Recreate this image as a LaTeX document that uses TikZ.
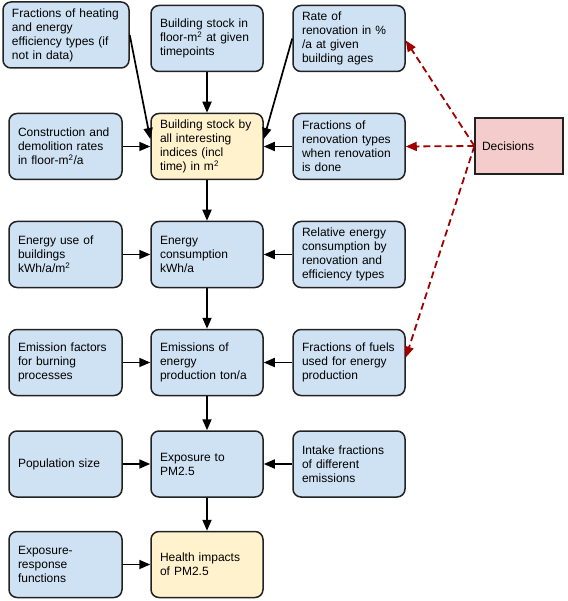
\documentclass[tikz,border=0pt]{standalone}
\usepackage{fontspec}
\setmainfont{Liberation Sans}
\usetikzlibrary{arrows.meta}
\definecolor{boxblue}{HTML}{CFE2F3}
\definecolor{boxyellow}{HTML}{FFF2CC}
\definecolor{boxpink}{HTML}{F4CCCC}
\definecolor{edgegray}{HTML}{222222}
\definecolor{decred}{HTML}{A00000}
\tikzset{
  box/.style={draw=edgegray, line width=1.5pt, rounded corners=8pt,
    fill=boxblue, minimum height=66pt, inner xsep=9pt, inner ysep=2pt,
    text width=#1, align=left,
    font=\fontsize{12}{14}\selectfont},
  box/.default=94pt,
  ybox/.style={box, fill=boxyellow},
  decbox/.style={draw=edgegray, line width=1.2pt, fill=boxpink,
    minimum width=88pt, minimum height=56pt, inner xsep=7pt, anchor=center,
    text width=74pt, align=left, font=\fontsize{12}{14}\selectfont},
  flow/.style={draw=black, line width=1.7pt, -{Triangle[length=11pt,width=9pt]}},
  decflow/.style={draw=decred, line width=1.8pt, dash pattern=on 7pt off 4pt,
    -{Triangle[length=11pt,width=9pt]}},
}
\begin{document}
\begin{tikzpicture}[x=1pt,y=-1pt]
\useasboundingbox (0,0) rectangle (567,601);
% column 1
\node[box=108pt] (frheat) at (66,35) {Fractions of heating\\and energy\\efficiency types (if\\not in data)};
\node[box=95pt] (constr) at (65.5,146.5) {Construction and\\demolition rates\\in floor-m\textsuperscript{2}/a};
\node[box=95pt] (euse) at (65.5,254.5) {Energy use of\\buildings\\kWh/a/m\textsuperscript{2}};
\node[box=95pt] (emfac) at (65.5,362.5) {Emission factors\\for burning\\processes};
\node[box=95pt] (pop) at (65.5,464) {Population size};
\node[box=95pt] (erf) at (65.5,564.5) {Exposure-\\response\\functions};
% column 2
\node[box] (bstock) at (207,38.5) {Building stock in\\floor-m\textsuperscript{2} at given\\timepoints};
\node[ybox] (allidx) at (207,146.5) {Building stock by\\all interesting\\indices (incl\\time) in m\textsuperscript{2}};
\node[box] (econs) at (207,254.5) {Energy\\consumption\\kWh/a};
\node[box] (emis) at (207,362.5) {Emissions of\\energy\\production ton/a};
\node[box] (expo) at (207,464) {Exposure to\\PM2.5};
\node[ybox] (health) at (207,564.5) {Health impacts\\of PM2.5};
% column 3
\node[box] (rate) at (349,38.5) {Rate of\\renovation in \%\\/a at given\\building ages};
\node[box] (frren) at (349,146.5) {Fractions of\\renovation types\\when renovation\\is done};
\node[box] (relen) at (349,254.5) {Relative energy\\consumption by\\renovation and\\efficiency types};
\node[box] (frfuel) at (349,362.5) {Fractions of fuels\\used for energy\\production};
\node[box] (intake) at (349,464) {Intake fractions\\of different\\emissions};
% decisions
\node[decbox] (dec) at (519,146) {Decisions};
% black flows
\draw[flow] (frheat.east) -- ([yshift=7.5pt]allidx.west);
\draw[flow] (bstock) -- (allidx);
\draw[flow] (rate.west) -- ([yshift=7.5pt]allidx.east);
\draw[flow] (constr) -- (allidx);
\draw[flow] (frren) -- (allidx);
\draw[flow] (allidx) -- (econs);
\draw[flow] (euse) -- (econs);
\draw[flow] (relen) -- (econs);
\draw[flow] (econs) -- (emis);
\draw[flow] (emfac) -- (emis);
\draw[flow] (frfuel) -- (emis);
\draw[flow] (emis) -- (expo);
\draw[flow] (pop) -- (expo);
\draw[flow] (intake) -- (expo);
\draw[flow] (expo) -- (health);
\draw[flow] (erf) -- (health);
% decision flows
\draw[decflow] (dec.west) -- ([yshift=-2pt]rate.east);
\draw[decflow] (dec.west) -- (frren.east);
\draw[decflow] (dec.west) -- ([yshift=5pt]frfuel.east);
\end{tikzpicture}
\end{document}
